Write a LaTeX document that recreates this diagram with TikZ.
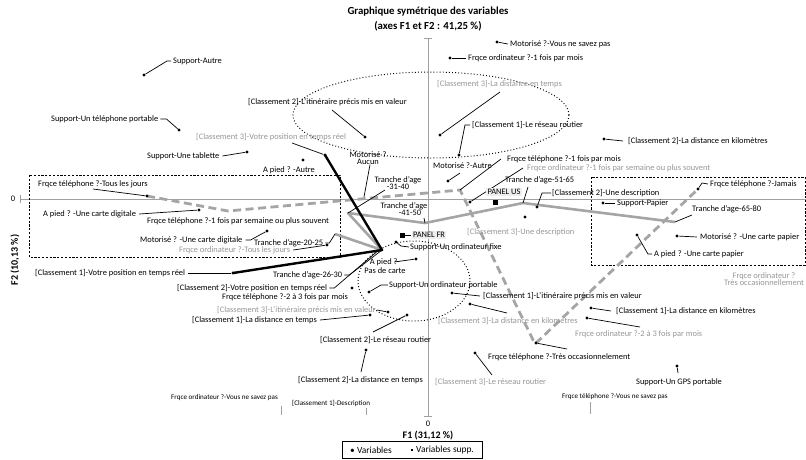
\documentclass[tikz,border=0pt]{standalone}
\usepackage{fontspec}
\setmainfont{Carlito}
\begin{document}
\begin{tikzpicture}[x=1pt,y=-1pt]
\definecolor{gtxt}{RGB}{150,150,150}
\definecolor{gline}{RGB}{165,165,165}
\definecolor{axc}{RGB}{160,160,160}
\definecolor{pfill}{RGB}{238,238,238}
\tikzset{
 lbl/.style={font=\fontsize{8.4}{9}\selectfont, inner sep=0pt, anchor=west},
 glbl/.style={lbl, text=gtxt},
 slbl/.style={font=\fontsize{7.1}{8}\selectfont, inner sep=0pt, anchor=west},
 ttl/.style={font=\fontsize{10.8}{12}\selectfont\bfseries, inner sep=0pt},
 axl/.style={font=\fontsize{10}{11}\selectfont\bfseries, inner sep=0pt},
 ldr/.style={line width=0.7pt},
 dotm/.style={circle, fill=black, inner sep=0pt, minimum size=3.2pt},
 sqm/.style={rectangle, fill=black, inner sep=0pt, minimum size=5pt},
 axisline/.style={draw=axc, line width=0.9pt},
 gsolid/.style={draw=gline, line width=2.6pt, line join=round},
 gdash/.style={draw=gline, line width=2.8pt, dash pattern=on 8pt off 4.5pt},
 bthick/.style={draw=black, line width=2.4pt, line join=round},
 dotell/.style={draw=black, line width=1pt, dash pattern=on 0.9pt off 2.2pt},
 dashbox/.style={draw=black, line width=0.8pt, dash pattern=on 2.2pt off 1.6pt},
 panel/.style={lbl, fill=pfill, inner sep=1.5pt},
 lgd/.style={font=\fontsize{9.4}{10}\selectfont, inner sep=0pt, anchor=west},
}
\useasboundingbox (0,0) rectangle (806,459);
% title
\node[ttl] (t1) at (428,12) {Graphique symétrique des variables};
\node[ttl] (t2) at (428,26) {(axes F1 et F2 : 41,25 \%)};
% axes
\coordinate (vt) at (428,38); \coordinate (vb) at (428,416);
\coordinate (hl) at (20,199); \coordinate (hr) at (806,199);
\draw[axisline] (vt) -- (vb);
\draw[axisline] ([xshift=-4pt]vt) -- ([xshift=4pt]vt);
\draw[axisline] ([xshift=-4pt]vb) -- ([xshift=4pt]vb);
\draw[axisline] (hl) -- (hr);
\draw[axisline] ([yshift=-4pt]hl) -- ([yshift=4pt]hl);
\node[font=\fontsize{8.5}{9}\selectfont, inner sep=0pt] (z1) at (428,424) {0};
\node[axl] (f1) at (428,436) {F1 (31,12 \%)};
\node[font=\fontsize{8.5}{9}\selectfont, inner sep=0pt] (z2) at (13,199) {0};
\node[axl, rotate=90] (f2) at (15,260) {F2 (10,13 \%)};
% ellipses and boxes
\draw[dotell] (431,115) ellipse [x radius=138, y radius=43];
\draw[dotell] (414,281) ellipse [x radius=56, y radius=40];
\draw[dashbox] (29,175) rectangle (340,257);
\draw[dashbox] (591,177) rectangle (805,265);
% connecting lines
\coordinate (c3pos) at (325,155);
\coordinate (hub) at (382,250);
\coordinate (c1pos) at (233,273);
\coordinate (a2025) at (335,234);
\coordinate (a3140) at (348,213);
\coordinate (a4150) at (425,223);
\coordinate (a5165) at (523,203);
\coordinate (a6580) at (675,222);
\coordinate (tJours) at (147,196);
\coordinate (tSem) at (228,211);
\coordinate (tMois) at (460,190);
\coordinate (tTres) at (535,344);
\coordinate (tJamais) at (698,189);
\draw[gsolid] (a2025) -- (hub) -- (a3140) -- (a4150) -- (a5165) -- (a6580);
\draw[gdash] (tJours) -- (tSem) -- (tMois) -- (tTres) -- (tJamais);
\draw[bthick] (c3pos) -- (hub) -- (c1pos);
% dots
\foreach \n/\p in {dSupAutre/{(144,75)}, dSupTel/{(179,130)}, dSupTab/{(247,152)}, dC2itin/{(365,137)},
  dC3distT/{(440,135)}, dC1res/{(459,155)}, dMotVNSP/{(497,42)}, dOrdMois/{(450,58)}, dC2km/{(604,139)},
  dMotAutre/{(448,181)}, dApAutre/{(303,160)}, dTelJours/{(147,196)}, dApDig/{(199,210)}, dMotDig/{(267,231)},
  dOrdJours/{(327,245)}, dC1pos/{(233,273)}, dC3pos/{(325,155)}, dOrdSem/{(470,202)}, dSupFixe/{(396,242)},
  dApPas/{(416,259)}, dSupPort/{(369,292)}, dTel23/{(352,288)}, dC3itin/{(388,312)}, dC1distT/{(370,315)},
  dC2res/{(407,315)}, dC2distT/{(366,350)}, dC1itin/{(452,293)}, dC3km/{(470,304)}, dC3res/{(475,353)},
  dTelTres/{(536,343)}, dOrd23/{(587,318)}, dC1km/{(591,308)}, dSupGPS/{(677,366)}, dC3desc/{(525,217)},
  dSupPap/{(603,203)}, dTelJamais/{(698,189)}, dMotPap/{(677,236)}, dApPap/{(637,235)}, dC2desc/{(537,207)}}
  {\node[dotm] (\n) at \p {};}
\node[sqm] (sqFR) at (402,235) {};
\node[sqm] (sqUS) at (495,202) {};
% labels
\node[lbl] (lSupAutre) at (173,61) {Support-Autre};
\draw[ldr] (dSupAutre) -- ([xshift=-6pt]lSupAutre.west) -- ([xshift=-2pt]lSupAutre.west);
\node[lbl] (lSupTel) at (51,119) {Support-Un téléphone portable};
\draw[ldr] (dSupTel) -- ([xshift=8pt]lSupTel.east) -- ([xshift=2pt]lSupTel.east);
\node[glbl] (lC3pos) at (196,137) {[Classement 3]-Votre position en temps réel};
\draw[ldr] (dC3pos) -- (292,143);
\node[lbl] (lSupTab) at (147,156) {Support-Une tablette};
\draw[ldr] (dSupTab) -- ([xshift=3pt]lSupTab.east);
\node[lbl] (lC2itin) at (248,102) {[Classement 2]-L'itinéraire précis mis en valeur};
\draw[ldr] (dC2itin) -- (332,110);
\node[glbl] (lC3distT) at (437,84) {[Classement 3]-La distance en temps};
\draw[ldr] (dC3distT) -- (500,92);
\node[lbl] (lC1res) at (472,125) {[Classement 1]-Le réseau routier};
\draw[ldr] (dC1res) -- ([xshift=-7pt]lC1res.west) -- ([xshift=-2pt]lC1res.west);
\node[lbl] (lMotVNSP) at (510,44) {Motorisé ?-Vous ne savez pas};
\draw[ldr] (dMotVNSP) -- ([xshift=-2pt]lMotVNSP.west);
\node[lbl] (lOrdMois) at (468,58) {Frqce ordinateur ?-1 fois par mois};
\draw[ldr] (dOrdMois) -- ([xshift=-2pt]lOrdMois.west);
\node[lbl] (lC2km) at (628,141) {[Classement 2]-La distance en kilomètres};
\draw[ldr] (dC2km) -- ([xshift=-5pt]lC2km.west);
\node[lbl, align=center, anchor=center] (lMotAuc) at (368,158) {Motorisé ?\\[-2pt]Aucun};
\coordinate (pMotAuc) at (364,197);
\draw[ldr] ([xshift=2pt]lMotAuc.south) -- (pMotAuc);
\node[lbl] (lMotAutre) at (433,166) {Motorisé ?-Autre};
\draw[ldr] (dMotAutre) -- (460,173);
\node[lbl] (lTel1mois) at (507,159) {Frqce téléphone ?-1 fois par mois};
\draw[ldr] (tMois) -- ([xshift=-6pt]lTel1mois.west);
\node[glbl] (lOrdSem) at (527,168) {Frqce ordinateur ?-1 fois par semaine ou plus souvent};
\draw[ldr] (dOrdSem) -- ([xshift=-4pt]lOrdSem.west);
\node[lbl] (lA5165) at (505,180) {Tranche d'age-51-65};
\draw[ldr] (a5165) -- (528,187);
\node[panel, anchor=center] (lUS) at (504,192) {PANEL US};
\node[lbl] (lC2desc) at (552,193) {[Classement 2]-Une description};
\draw[ldr] (dC2desc) -- (542,193) -- ([xshift=-1pt]lC2desc.west);
\node[lbl, align=center, anchor=center] (lA3140) at (398,183) {Tranche d'age\\[-2pt]-31-40};
\draw[ldr] (a3140) -- (385,190);
\node[lbl, align=center, anchor=center] (lA4150) at (404,209) {Tranche d'age\\[-2pt]\hspace*{12pt}-41-50};
\draw[ldr] (a4150) -- (424,218);
\node[lbl] (lApAutre) at (263,170) {A pied ? -Autre};
\node[lbl] (lTelJours) at (38,184) {Frqce téléphone ?-Tous les jours};
\draw[ldr] (dTelJours) -- (93,189);
\node[lbl] (lApDig) at (43,214) {A pied ? -Une carte digitale};
\draw[ldr] (dApDig) -- ([xshift=3pt]lApDig.east);
\node[lbl] (lTelSem) at (147,221) {Frqce téléphone ?-1 fois par semaine ou plus souvent};
\node[lbl] (lMotDig) at (140,240) {Motorisé ? -Une carte digitale};
\draw[ldr] (dMotDig) -- ([xshift=8pt]lMotDig.east) -- ([xshift=3pt]lMotDig.east);
\node[lbl] (lA2025) at (254,243) {Tranche d'age-20-25};
\draw[ldr] (a2025) -- ([xshift=6pt]lA2025.east) -- ([xshift=2pt]lA2025.east);
\node[glbl] (lOrdJours) at (179,250) {Frqce ordinateur ?-Tous les jours};
\draw[ldr] (dOrdJours) -- ([xshift=3pt]lOrdJours.east);
\node[lbl] (lC1pos) at (35,273) {[Classement 1]-Votre position en temps réel};
\draw[ldr] (dC1pos) -- ([xshift=3pt]lC1pos.east);
\node[lbl] (lA2630) at (273,275) {Tranche d'age-26-30};
\draw[ldr] ([xshift=2pt]lA2630.east) -- ([xshift=7pt]lA2630.east) -- (hub);
\node[lbl] (lC2pos) at (177,288) {[Classement 2]-Votre position en temps réel};
\draw[ldr] ([xshift=2pt]lC2pos.east) -- ([xshift=7pt]lC2pos.east) -- ([xshift=-2pt,yshift=1pt]hub);
\node[lbl] (lTel23) at (222,297) {Frqce téléphone ?-2 à 3 fois par mois};
\node[panel, anchor=center] (lFR) at (429,235) {PANEL FR};
\draw[ldr] (sqFR) -- (lFR.west);
\node[lbl] (lSupFixe) at (410,247) {Support-Un ordinateur fixe};
\draw[ldr] (dSupFixe) -- (401,246) -- ([xshift=-1pt]lSupFixe.west);
\node[lbl, align=center, anchor=center] (lApPas) at (385,266) {A pied ?-\\Pas de carte};
\draw[ldr] (dApPas) -- (394,262);
\node[lbl] (lSupPort) at (389,285) {Support-Un ordinateur portable};
\draw[ldr] (dSupPort) -- (381,285) -- ([xshift=-1pt]lSupPort.west);
\node[glbl] (lC3itin) at (217,310) {[Classement 3]-L'itinéraire précis mis en valeur};
\draw[ldr] (dC3itin) -- ([xshift=1pt]lC3itin.east);
\node[lbl] (lC1distT) at (192,320) {[Classement 1]-La distance en temps};
\draw[ldr] (dC1distT) -- ([xshift=3pt]lC1distT.east);
\node[lbl] (lC2res) at (320,340) {[Classement 2]-Le réseau routier};
\draw[ldr] (dC2res) -- (373,332);
\node[lbl] (lC2distT) at (298,380) {[Classement 2]-La distance en temps};
\draw[ldr] (dC2distT) -- (361,372);
\node[lbl] (lC1itin) at (483,296) {[Classement 1]-L'itinéraire précis mis en valeur};
\draw[ldr] (dC1itin) -- ([xshift=-3pt]lC1itin.west);
\node[glbl] (lC3km) at (438,321) {[Classement 3]-La distance en kilomètres};
\draw[ldr] (dC3km) -- (507,313);
\node[glbl] (lC3res) at (435,382) {[Classement 3]-Le réseau routier};
\draw[ldr] (dC3res) -- (492,375);
\node[lbl] (lTelTres) at (488,357) {Frqce téléphone ?-Très occasionnelement};
\draw[ldr] (dTelTres) -- (567,349);
\node[glbl] (lOrd23) at (575,334) {Frqce ordinateur ?-2 à 3 fois par mois};
\draw[ldr] (dOrd23) -- (640,327);
\node[lbl] (lC1km) at (616,311) {[Classement 1]-La distance en kilomètres};
\draw[ldr] (dC1km) -- ([xshift=-5pt]lC1km.west);
\node[lbl] (lSupGPS) at (636,382) {Support-Un GPS portable};
\draw[ldr] (dSupGPS) -- (678,373);
\node[glbl] (lC3desc) at (467,232) {[Classement 3]-Une description};
\node[lbl] (lSupPap) at (617,203) {Support-Papier};
\draw[ldr] (dSupPap) -- ([xshift=-2pt]lSupPap.west);
\node[lbl] (lTelJamais) at (710,184) {Frqce téléphone ?-Jamais};
\draw[ldr] (dTelJamais) -- (702,183) -- ([xshift=-2pt]lTelJamais.west);
\node[lbl] (lA6580) at (692,209) {Tranche d'age-65-80};
\draw[ldr] (a6580) -- (692,215);
\node[lbl] (lMotPap) at (700,237) {Motorisé ? -Une carte papier};
\draw[ldr] (dMotPap) -- ([xshift=-3pt]lMotPap.west);
\node[lbl] (lApPap) at (654,254) {A pied ? -Une carte papier};
\draw[ldr] (dApPap) -- (648,254) -- ([xshift=-2pt]lApPap.west);
\node[glbl, align=center, anchor=center] (lOrdTres) at (764,279) {Frqce ordinateur ?\\[-2pt]Très occasionnellement};
% small labels at bottom
\node[slbl] (lOrdVNSP) at (171,398) {Frqce ordinateur ?-Vous ne savez pas};
\draw[draw=axc, line width=0.5pt] (281,406) -- (281,415);
\node[slbl] (lC1Desc) at (292,403) {[Classement 1]-Description};
\draw[draw=axc, line width=0.5pt] (366,408) -- (366,415);
\node[slbl] (lTelVNSP) at (562,397) {Frqce téléphone ?-Vous ne savez pas};
\draw[draw=axc, line width=0.5pt] (590,402) -- (590,414);
% legend
\draw[line width=0.8pt] (342,441) rectangle (482,458);
\node[lgd] (lg1) at (350,450) {\textbullet\ Variables};
\node[sqm, minimum size=2.8pt] (lgsq) at (412,450) {};
\node[lgd] (lg2) at (416,450) {Variables supp.};
\end{tikzpicture}
\end{document}
